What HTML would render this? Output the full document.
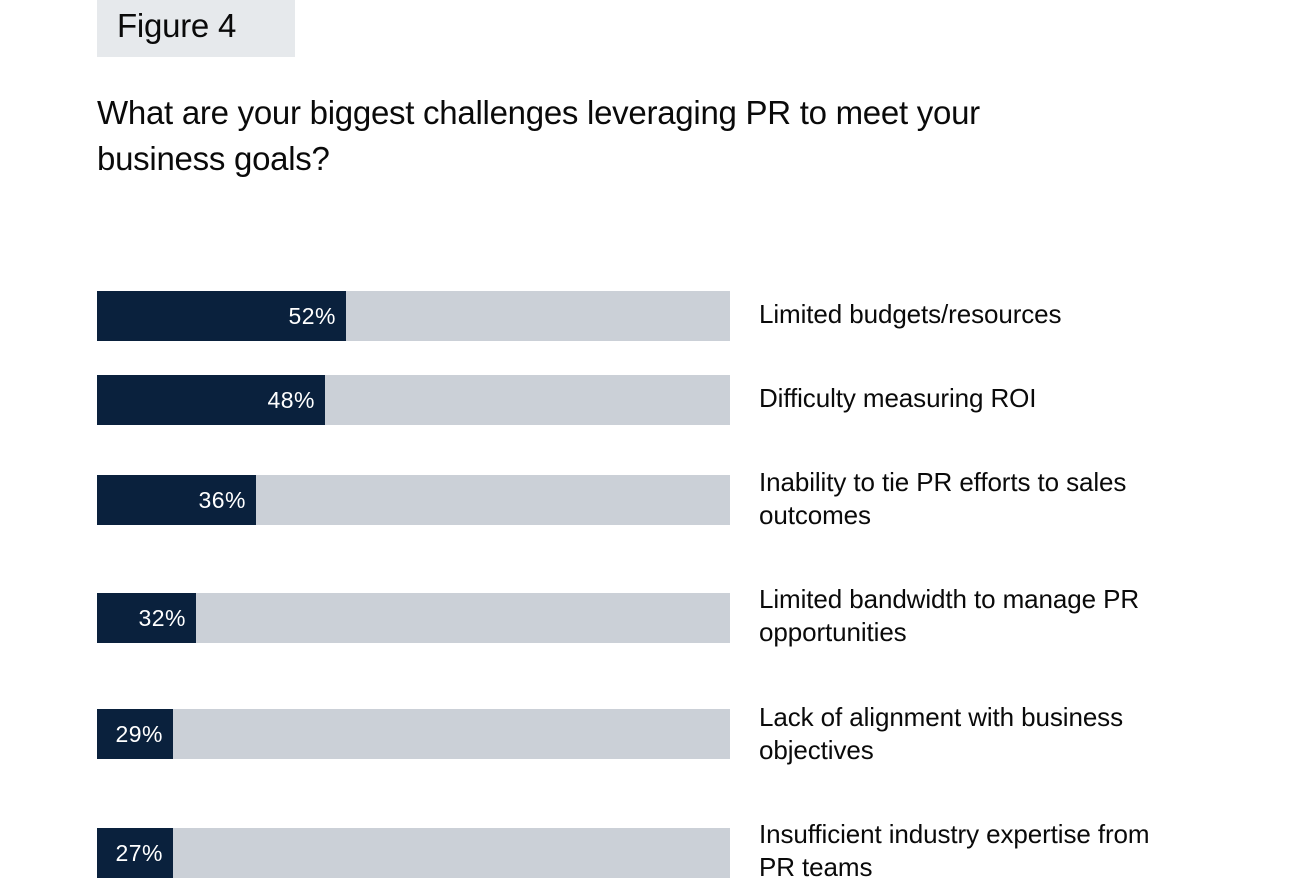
<!DOCTYPE html>
<html><head><style>
body{margin:0;width:1307px;height:896px;background:#fff;position:relative;overflow:hidden;font-family:"Liberation Sans",sans-serif;color:#0a0a0a}
.a{position:absolute}
.fig{left:97px;top:0;width:198px;height:57px;background:#e6e9ec}
.fig span{position:absolute;left:20px;top:7px;font-size:33px;letter-spacing:-0.25px}
.title{left:97px;top:90px;font-size:33px;line-height:46px;letter-spacing:-0.27px}
.bg{left:97px;width:633px;height:50px;background:#cbd0d7}
.fg{position:absolute;left:0;top:0;height:50px;background:#0a213d;color:#fff;font-size:23px;text-align:right;box-sizing:border-box;padding-right:10px;line-height:50px;letter-spacing:0.5px}
.lab{left:759px;font-size:26px;line-height:33px;letter-spacing:-0.1px;width:440px}
</style></head><body>
<div class="a fig"><span>Figure 4</span></div>
<div class="a title">What are your biggest challenges leveraging PR to meet your<br>business goals?</div>

<div class="a bg" style="top:291px"><div class="fg" style="width:249px">52%</div></div>
<div class="a lab" style="top:298px">Limited budgets/resources</div>

<div class="a bg" style="top:375px"><div class="fg" style="width:228px">48%</div></div>
<div class="a lab" style="top:382px">Difficulty measuring ROI</div>

<div class="a bg" style="top:475px"><div class="fg" style="width:159px">36%</div></div>
<div class="a lab" style="top:466px">Inability to tie PR efforts to sales<br>outcomes</div>

<div class="a bg" style="top:593px"><div class="fg" style="width:99px">32%</div></div>
<div class="a lab" style="top:583px">Limited bandwidth to manage PR<br>opportunities</div>

<div class="a bg" style="top:709px"><div class="fg" style="width:76px">29%</div></div>
<div class="a lab" style="top:701px">Lack of alignment with business<br>objectives</div>

<div class="a bg" style="top:828px"><div class="fg" style="width:76px">27%</div></div>
<div class="a lab" style="top:818px">Insufficient industry expertise from<br>PR teams</div>
</body></html>
